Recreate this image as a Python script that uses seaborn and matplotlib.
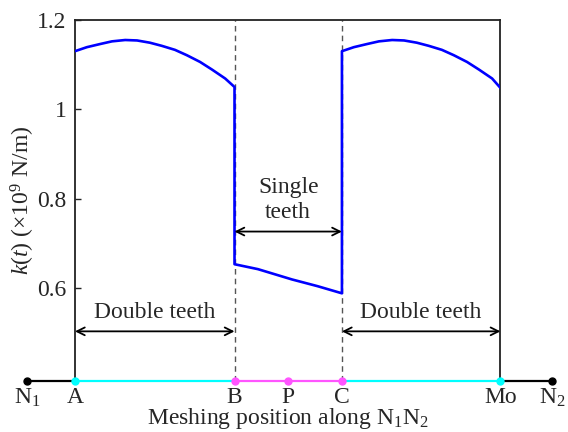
import matplotlib
matplotlib.use("Agg")
import matplotlib.pyplot as plt
import seaborn as sns
import pandas as pd

# ---------------- data ----------------
# meshing positions along N1N2 (A = 0, Mo = 1)
pos_names = ["N$_1$", "A", "B", "P", "C", "Mo", "N$_2$"]
pos_values = [-0.113, 0.0, 0.375, 0.5, 0.6275, 1.0, 1.121]

# double teeth zone 1 (A -> B)
dbl1_x = [0.0, 0.028, 0.059, 0.087, 0.118, 0.146, 0.176, 0.204, 0.235, 0.263,
          0.294, 0.322, 0.353, 0.375]
dbl1_k = [1.130, 1.139, 1.146, 1.152, 1.155, 1.154, 1.149, 1.142, 1.133, 1.121,
          1.106, 1.089, 1.069, 1.050]
# single teeth zone (B -> C)
sgl_x = [0.375, 0.43, 0.51, 0.57, 0.6275]
sgl_k = [0.654, 0.643, 0.620, 0.605, 0.589]
# double teeth zone 2 (C -> Mo)
dbl2_x = [0.6275, 0.6555, 0.6865, 0.7145, 0.7455, 0.7735, 0.8035, 0.8315, 0.8625,
          0.8905, 0.9215, 0.9495, 0.9805, 1.0]
dbl2_k = [1.130, 1.139, 1.146, 1.152, 1.155, 1.154, 1.149, 1.142, 1.133, 1.121,
          1.106, 1.089, 1.069, 1.048]

yticks = [0.6, 0.8, 1.0, 1.2]
ytick_labels = ["0.6", "0.8", "1", "1.2"]

# ---------------- style ----------------
sns.set_theme(style="white")
plt.rcParams["font.family"] = ["Liberation Serif", "DejaVu Serif"]
plt.rcParams["mathtext.fontset"] = "custom"
plt.rcParams["mathtext.rm"] = "Liberation Serif"
plt.rcParams["mathtext.it"] = "Liberation Serif:italic"
FS = 17

fig = plt.figure(figsize=(5.68, 4.32), dpi=100)
ax = fig.add_axes([0.132, 0.118, 0.749, 0.836])

ymin, ymax = 0.393, 1.2
ax.set_xlim(0.0, 1.0)
ax.set_ylim(ymin, ymax)

# dashed boundaries at B and C
for xv in (pos_values[2], pos_values[4]):
    ax.plot([xv, xv], [ymin, ymax], ls=(0, (4, 3)), color="#555555", lw=1.0, zorder=1)

# stiffness curve
curve = pd.DataFrame({"x": dbl1_x + sgl_x + dbl2_x, "k": dbl1_k + sgl_k + dbl2_k})
sns.lineplot(data=curve, x="x", y="k", sort=False, estimator=None, color="#0000ff",
             lw=1.9, ax=ax, zorder=3)

# spines
for s in ("left", "right", "top"):
    ax.spines[s].set_visible(True)
    ax.spines[s].set_color("#222222")
    ax.spines[s].set_linewidth(1.3)
ax.spines["bottom"].set_visible(False)

ax.set_yticks(yticks)
ax.set_yticklabels(ytick_labels, fontsize=FS)
ax.set_xticks([])
ax.tick_params(axis="y", direction="in", length=4, width=1.0, color="#222222",
               pad=6, left=True)
ax.set_xlabel("")
ax.set_ylabel(r"$k$($t$) ($\times$10$^9$ N/m)", fontsize=FS, labelpad=0)

# N1N2 line with colored segments
seg_cols = ["black", "#00ffff", "#ff55ff", "#ff55ff", "#00ffff", "black"]
for i in range(len(pos_values) - 1):
    ax.plot([pos_values[i], pos_values[i + 1]], [ymin, ymin], color=seg_cols[i],
            lw=1.6, clip_on=False, zorder=4)
dot_cols = ["black", "#00ffff", "#ff55ff", "#ff55ff", "#ff55ff", "#00ffff", "black"]
for xv, c in zip(pos_values, dot_cols):
    ax.plot([xv], [ymin], "o", ms=5, color=c, mec=c, clip_on=False, zorder=5)
for name, xv in zip(pos_names, pos_values):
    ax.annotate(name, xy=(xv, ymin), xytext=(0, -12), textcoords="offset points",
                ha="center", va="center", fontsize=FS, annotation_clip=False)
ax.text(0.5, -0.105, r"Meshing position along N$_1$N$_2$", transform=ax.transAxes,
        ha="center", va="center", fontsize=FS)

# zone annotations
arrow = dict(arrowstyle="<->", color="black", lw=1.3, mutation_scale=14,
             shrinkA=0, shrinkB=0)
y_dbl = 0.504
ax.annotate("", xy=(pos_values[1], y_dbl), xytext=(pos_values[2], y_dbl),
            arrowprops=arrow, annotation_clip=False)
ax.annotate("", xy=(pos_values[4], y_dbl), xytext=(pos_values[5], y_dbl),
            arrowprops=arrow, annotation_clip=False)
ax.text((pos_values[1] + pos_values[2]) / 2, 0.547, "Double teeth", ha="center",
        va="center", fontsize=FS)
ax.text((pos_values[4] + pos_values[5]) / 2, 0.547, "Double teeth", ha="center",
        va="center", fontsize=FS)
y_sgl = 0.727
ax.annotate("", xy=(pos_values[2], y_sgl), xytext=(pos_values[4], y_sgl),
            arrowprops=arrow)
ax.text((pos_values[2] + pos_values[4]) / 2, 0.797, "Single\nteeth", ha="center",
        va="center", fontsize=FS, linespacing=1.25)

fig.savefig("out.png", dpi=100)
